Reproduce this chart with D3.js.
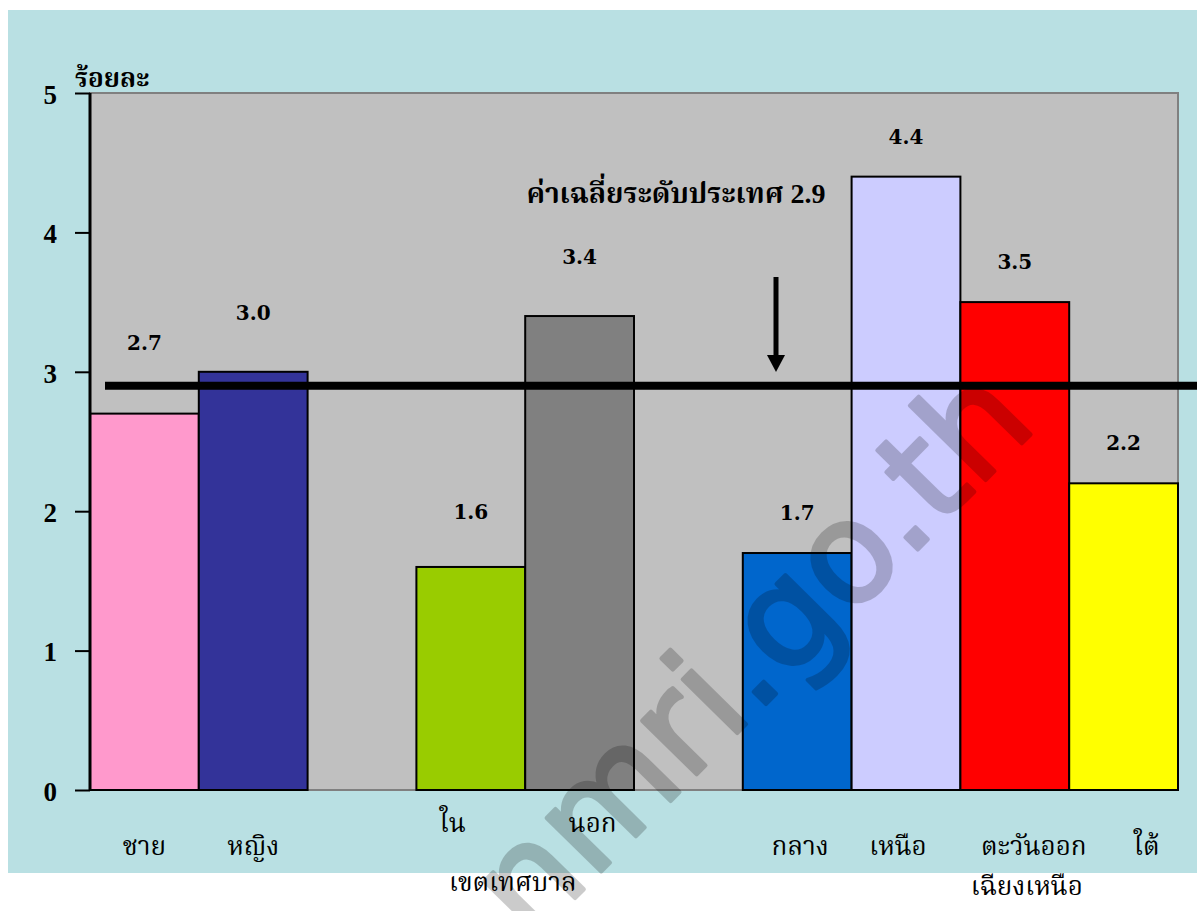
<!DOCTYPE html>
<html>
<head>
<meta charset="utf-8">
<script src="https://cdn.jsdelivr.net/npm/d3@7"></script>
<style>
  html, body { margin: 0; padding: 0; background: #ffffff; }
  svg { display: block; }
</style>
</head>
<body>
<svg id="chart" width="1197" height="911"></svg>
<script>
// Percentages by sex, by area and by region
const categories = ["ชาย", "หญิง", "ใน", "นอก", "กลาง", "เหนือ", "ตะวันออกเฉียงเหนือ", "ใต้"];
const groups     = ["sex", "sex", "area", "area", "region", "region", "region", "region"];
const values     = [2.7, 3.0, 1.6, 3.4, 1.7, 4.4, 3.5, 2.2];
const valueLabels = ["2.7", "3.0", "1.6", "3.4", "1.7", "4.4", "3.5", "2.2"];
const nationalMean = 2.9;
const meanCaption = "ค่าเฉลี่ยระดับประเทศ";
const meanValueLabel = "2.9";
const yTicks = [0, 1, 2, 3, 4, 5];
const yTitle = "ร้อยละ";

// Bar fills
const barColors = ["#ff99cc", "#333399", "#99cc00", "#808080", "#0066cc", "#ccccff", "#ff0000", "#ffff00"];

const W = 1197, H = 911;
const plot = { left: 90, right: 1178, top: 93, bottom: 790 };
const thaiFont = "'Angsana New','TH Sarabun New','Norasi','Noto Serif Thai','Noto Sans Thai','Loma','Garuda',serif";
const numFont = "'Liberation Serif','Times New Roman',serif";

const svg = d3.select("#chart");

// Slot domain: every group followed by an empty spacer slot
const slots = [];
groups.forEach((g, i) => {
  if (i > 0 && groups[i - 1] !== g) slots.push("gap-" + i);
  slots.push(categories[i]);
});

const x = d3.scaleBand().domain(slots).range([plot.left, plot.right]).padding(0);
const y = d3.scaleLinear().domain([0, 5]).range([plot.bottom, plot.top]);

// Panel background
svg.append("rect").attr("x", 8).attr("y", 10).attr("width", W - 8).attr("height", 863)
  .attr("fill", "#b9e0e3");

// Plot area
svg.append("rect")
  .attr("x", plot.left).attr("y", plot.top)
  .attr("width", plot.right - plot.left).attr("height", plot.bottom - plot.top)
  .attr("fill", "#c0c0c0").attr("stroke", "#808080").attr("stroke-width", 2);

// Bars
svg.append("g").selectAll("rect").data(categories).join("rect")
  .attr("x", (d) => x(d))
  .attr("y", (d, i) => y(values[i]))
  .attr("width", x.bandwidth())
  .attr("height", (d, i) => y(0) - y(values[i]))
  .attr("fill", (d, i) => barColors[i])
  .attr("stroke", "#000").attr("stroke-width", 2);

// Value labels above bars
const labelLift = [64, 52, 48, 52, 33, 33, 33, 33];
svg.append("g").selectAll("text").data(categories).join("text")
  .attr("x", (d) => x(d) + x.bandwidth() / 2)
  .attr("y", (d, i) => y(values[i]) - labelLift[i])
  .attr("text-anchor", "middle")
  .attr("font-family", "'DejaVu Serif',serif").attr("font-weight", "bold")
  .attr("font-size", 20).attr("fill", "#000")
  .text((d, i) => valueLabels[i]);

// Y axis
const yAxis = d3.axisLeft(y).tickValues(yTicks).tickSize(15).tickPadding(18).tickFormat(d3.format("d"));
const ya = svg.append("g").attr("transform", `translate(${plot.left},0)`).call(yAxis);
ya.select(".domain").attr("stroke", "#000").attr("stroke-width", 3)
  .attr("d", `M0,${plot.top}V${plot.bottom}`);
ya.selectAll(".tick line").attr("stroke", "#000").attr("stroke-width", 2);
ya.selectAll(".tick text")
  .attr("font-family", numFont).attr("font-weight", "bold").attr("font-size", 27)
  .attr("fill", "#000").attr("dy", "0.38em");

// Y title
svg.append("text").attr("x", 75).attr("y", 87)
  .attr("font-family", thaiFont).attr("font-weight", "bold").attr("font-size", 26)
  .text(yTitle);

// X labels (first row, second row and shared captions)
const xLabelRows = [
  { cat: "ชาย", text: "ชาย", dx: 0, y: 855 },
  { cat: "หญิง", text: "หญิง", dx: 0, y: 855 },
  { cat: "ใน", text: "ใน", dx: -18, y: 832 },
  { cat: "นอก", text: "นอก", dx: 13, y: 832 },
  { cat: "กลาง", text: "กลาง", dx: 3, y: 855 },
  { cat: "เหนือ", text: "เหนือ", dx: -8, y: 855 },
  { cat: "ตะวันออกเฉียงเหนือ", text: "ตะวันออก", dx: 19, y: 855 },
  { cat: "ใต้", text: "ใต้", dx: 23, y: 855 },
  { cat: "ใน", text: "เขตเทศบาล", dx: 42, y: 891 },
  { cat: "ตะวันออกเฉียงเหนือ", text: "เฉียงเหนือ", dx: 12, y: 895 }
];
svg.append("g").selectAll("text").data(xLabelRows).join("text")
  .attr("x", (d) => x(d.cat) + x.bandwidth() / 2 + d.dx)
  .attr("y", (d) => d.y)
  .attr("text-anchor", "middle")
  .attr("font-family", thaiFont).attr("font-size", 26).attr("fill", "#000")
  .text((d) => d.text);

// National average line
svg.append("line")
  .attr("x1", 105).attr("x2", W)
  .attr("y1", y(nationalMean)).attr("y2", y(nationalMean))
  .attr("stroke", "#000").attr("stroke-width", 8);

// Average caption and pointer arrow
const cap = svg.append("text").attr("x", 676).attr("y", 203).attr("text-anchor", "middle")
  .attr("font-weight", "bold").attr("font-size", 28).attr("fill", "#000");
cap.append("tspan").attr("font-family", thaiFont).text(meanCaption + " ");
cap.append("tspan").attr("font-family", numFont).text(meanValueLabel);

const ax = 776;
svg.append("line").attr("x1", ax).attr("x2", ax).attr("y1", 277).attr("y2", 357)
  .attr("stroke", "#000").attr("stroke-width", 5);
svg.append("path").attr("d", `M${ax - 9},355L${ax + 9},355L${ax},372Z`).attr("fill", "#000");

// Site watermark
svg.append("g").attr("opacity", 0.2)
  .append("text")
  .attr("transform", "translate(530,944) rotate(-45.5)")
  .attr("font-family", "'DejaVu Sans',sans-serif")
  .attr("font-size", 140).attr("fill", "#000")
  .attr("stroke", "#000").attr("stroke-width", 4).attr("stroke-linejoin", "round")
  .text("nmri.go.th");
</script>
</body>
</html>
